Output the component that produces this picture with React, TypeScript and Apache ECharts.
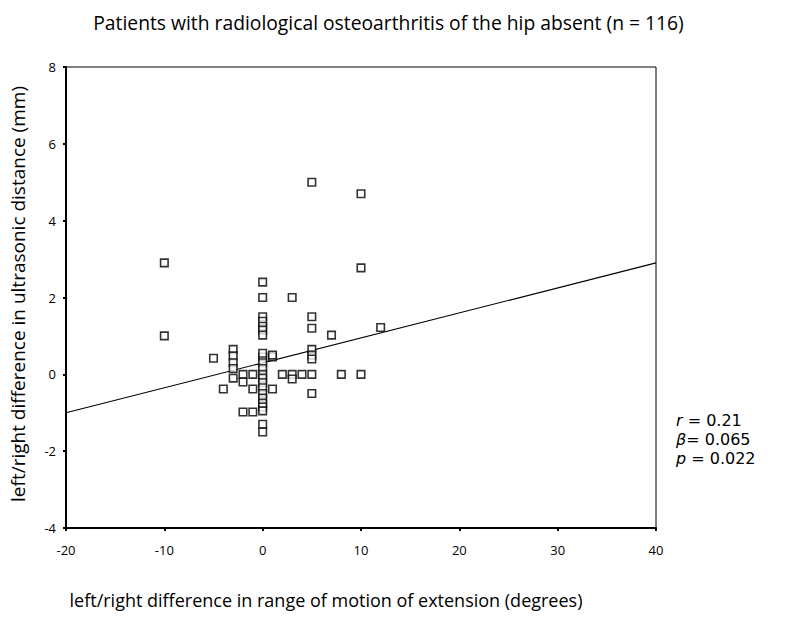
import React, { useEffect, useRef } from "react";
import * as echarts from "echarts";

const titleText = "Patients with radiological osteoarthritis of the hip absent (n = 116)";
const xAxisName = "left/right difference in range of motion of extension (degrees)";
const yAxisName = "left/right difference in ultrasonic distance (mm)";

const xValues = [
  -10, -10, 5, 10, 10, 3, 12, 7, 8, 10,
  0, 0, 0, 0, 0, 0, 0,
  5, 5, 5, 5, 5, 5, 5,
  -3, -3, -3, -3, -3, -5, -4,
  0, 0, 0, 0, 0, 0, 0, 0, 0, 0, 0, 0, 0,
  1, 1, 1, -2, -2, -1, -1, 2, 3, 3, 4, -2, -1,
  0, 0,
];
const yValues = [
  2.9, 1.0, 5.0, 4.7, 2.77, 2.0, 1.22, 1.02, 0.0, 0.0,
  2.4, 2.0, 1.5, 1.38, 1.25, 1.15, 1.02,
  1.5, 1.2, 0.65, 0.5, 0.4, 0.0, -0.5,
  0.65, 0.48, 0.3, 0.15, -0.1, 0.42, -0.38,
  0.45, 0.3, 0.15, 0.0, -0.1, -0.22, -0.35, -0.5, -0.62, -0.75, -0.85, -0.95, 0.55,
  0.45, 0.5, -0.38, 0.0, -0.2, 0.0, -0.38, 0.0, 0.0, -0.12, 0.0, -0.98, -0.98,
  -1.3, -1.5,
];

const fitX = [-20, 40];
const fitY = [-1.0, 2.9];

const xTicks = [-20, 40, 10];
const yTicks = [-4, 8, 2];

const statLines = [
  { sym: "r", val: " = 0.21" },
  { sym: "β", val: "= 0.065" },
  { sym: "p", val: " = 0.022" },
];

const FONT = "Open Sans";
const STAT_FONT = "DejaVu Sans";

export default function App() {
  const ref = useRef<HTMLDivElement>(null);
  useEffect(() => {
    if (!ref.current) return;
    const chart = echarts.init(ref.current, null, { renderer: "svg" });
    const points = xValues.map((x, i) => [x, yValues[i]]);
    const fit = fitX.map((x, i) => [x, fitY[i]]);
    chart.setOption({
      animation: false,
      backgroundColor: "#fff",
      title: {
        text: titleText,
        left: 383.5,
        textAlign: "center",
        top: 8,
        textStyle: { fontFamily: FONT, fontSize: 19.3, fontWeight: "normal", color: "#000" },
      },
      grid: {
        left: 66,
        right: 131,
        top: 67,
        bottom: 89,
        show: true,
        borderColor: "#000",
        borderWidth: 1,
      },
      xAxis: {
        type: "value",
        min: xTicks[0],
        max: xTicks[1],
        interval: xTicks[2],
        name: xAxisName,
        nameLocation: "middle",
        nameGap: 63,
        nameTextStyle: { fontFamily: FONT, fontSize: 18, color: "#000", padding: [0, 70, 0, 0] },
        axisLine: { show: true, onZero: false, lineStyle: { color: "#000", width: 2 } },
        axisTick: { show: true, length: 3, lineStyle: { color: "#000", width: 2 } },
        axisLabel: { fontFamily: FONT, fontSize: 13, color: "#000", margin: 15 },
        splitLine: { show: false },
      },
      yAxis: {
        type: "value",
        min: yTicks[0],
        max: yTicks[1],
        interval: yTicks[2],
        name: yAxisName,
        nameLocation: "middle",
        nameGap: 39,
        nameTextStyle: { fontFamily: FONT, fontSize: 19, color: "#000", padding: [0, 0, 0, 7] },
        axisLine: { show: true, onZero: false, lineStyle: { color: "#000", width: 2 } },
        axisTick: { show: true, length: 3, lineStyle: { color: "#000", width: 2 } },
        axisLabel: { fontFamily: FONT, fontSize: 13, color: "#000", margin: 10 },
        splitLine: { show: false },
      },
      series: [
        {
          type: "line",
          data: fit,
          symbol: "none",
          lineStyle: { color: "#000", width: 1.2 },
          silent: true,
          z: 1,
        },
        {
          type: "scatter",
          data: points,
          symbol: "rect",
          symbolSize: 7.5,
          itemStyle: { color: "#fff", borderColor: "#000", borderWidth: 1.6 },
          z: 2,
        },
      ],
      graphic: statLines.map((s, i) => ({
        type: "text",
        left: 676,
        top: 412.5 + i * 18.8,
        style: {
          text: `{i|${s.sym}}{n|${s.val}}`,
          rich: {
            i: { fontFamily: STAT_FONT, fontSize: 16, lineHeight: 18, fontStyle: "italic", fill: "#000" },
            n: { fontFamily: STAT_FONT, fontSize: 16, lineHeight: 18, fill: "#000" },
          },
        },
      })),
    });
    return () => chart.dispose();
  }, []);
  return (
    <div
      ref={ref}
      style={{ position: "absolute", left: 0, top: 0, width: 787, height: 617 }}
    />
  );
}
